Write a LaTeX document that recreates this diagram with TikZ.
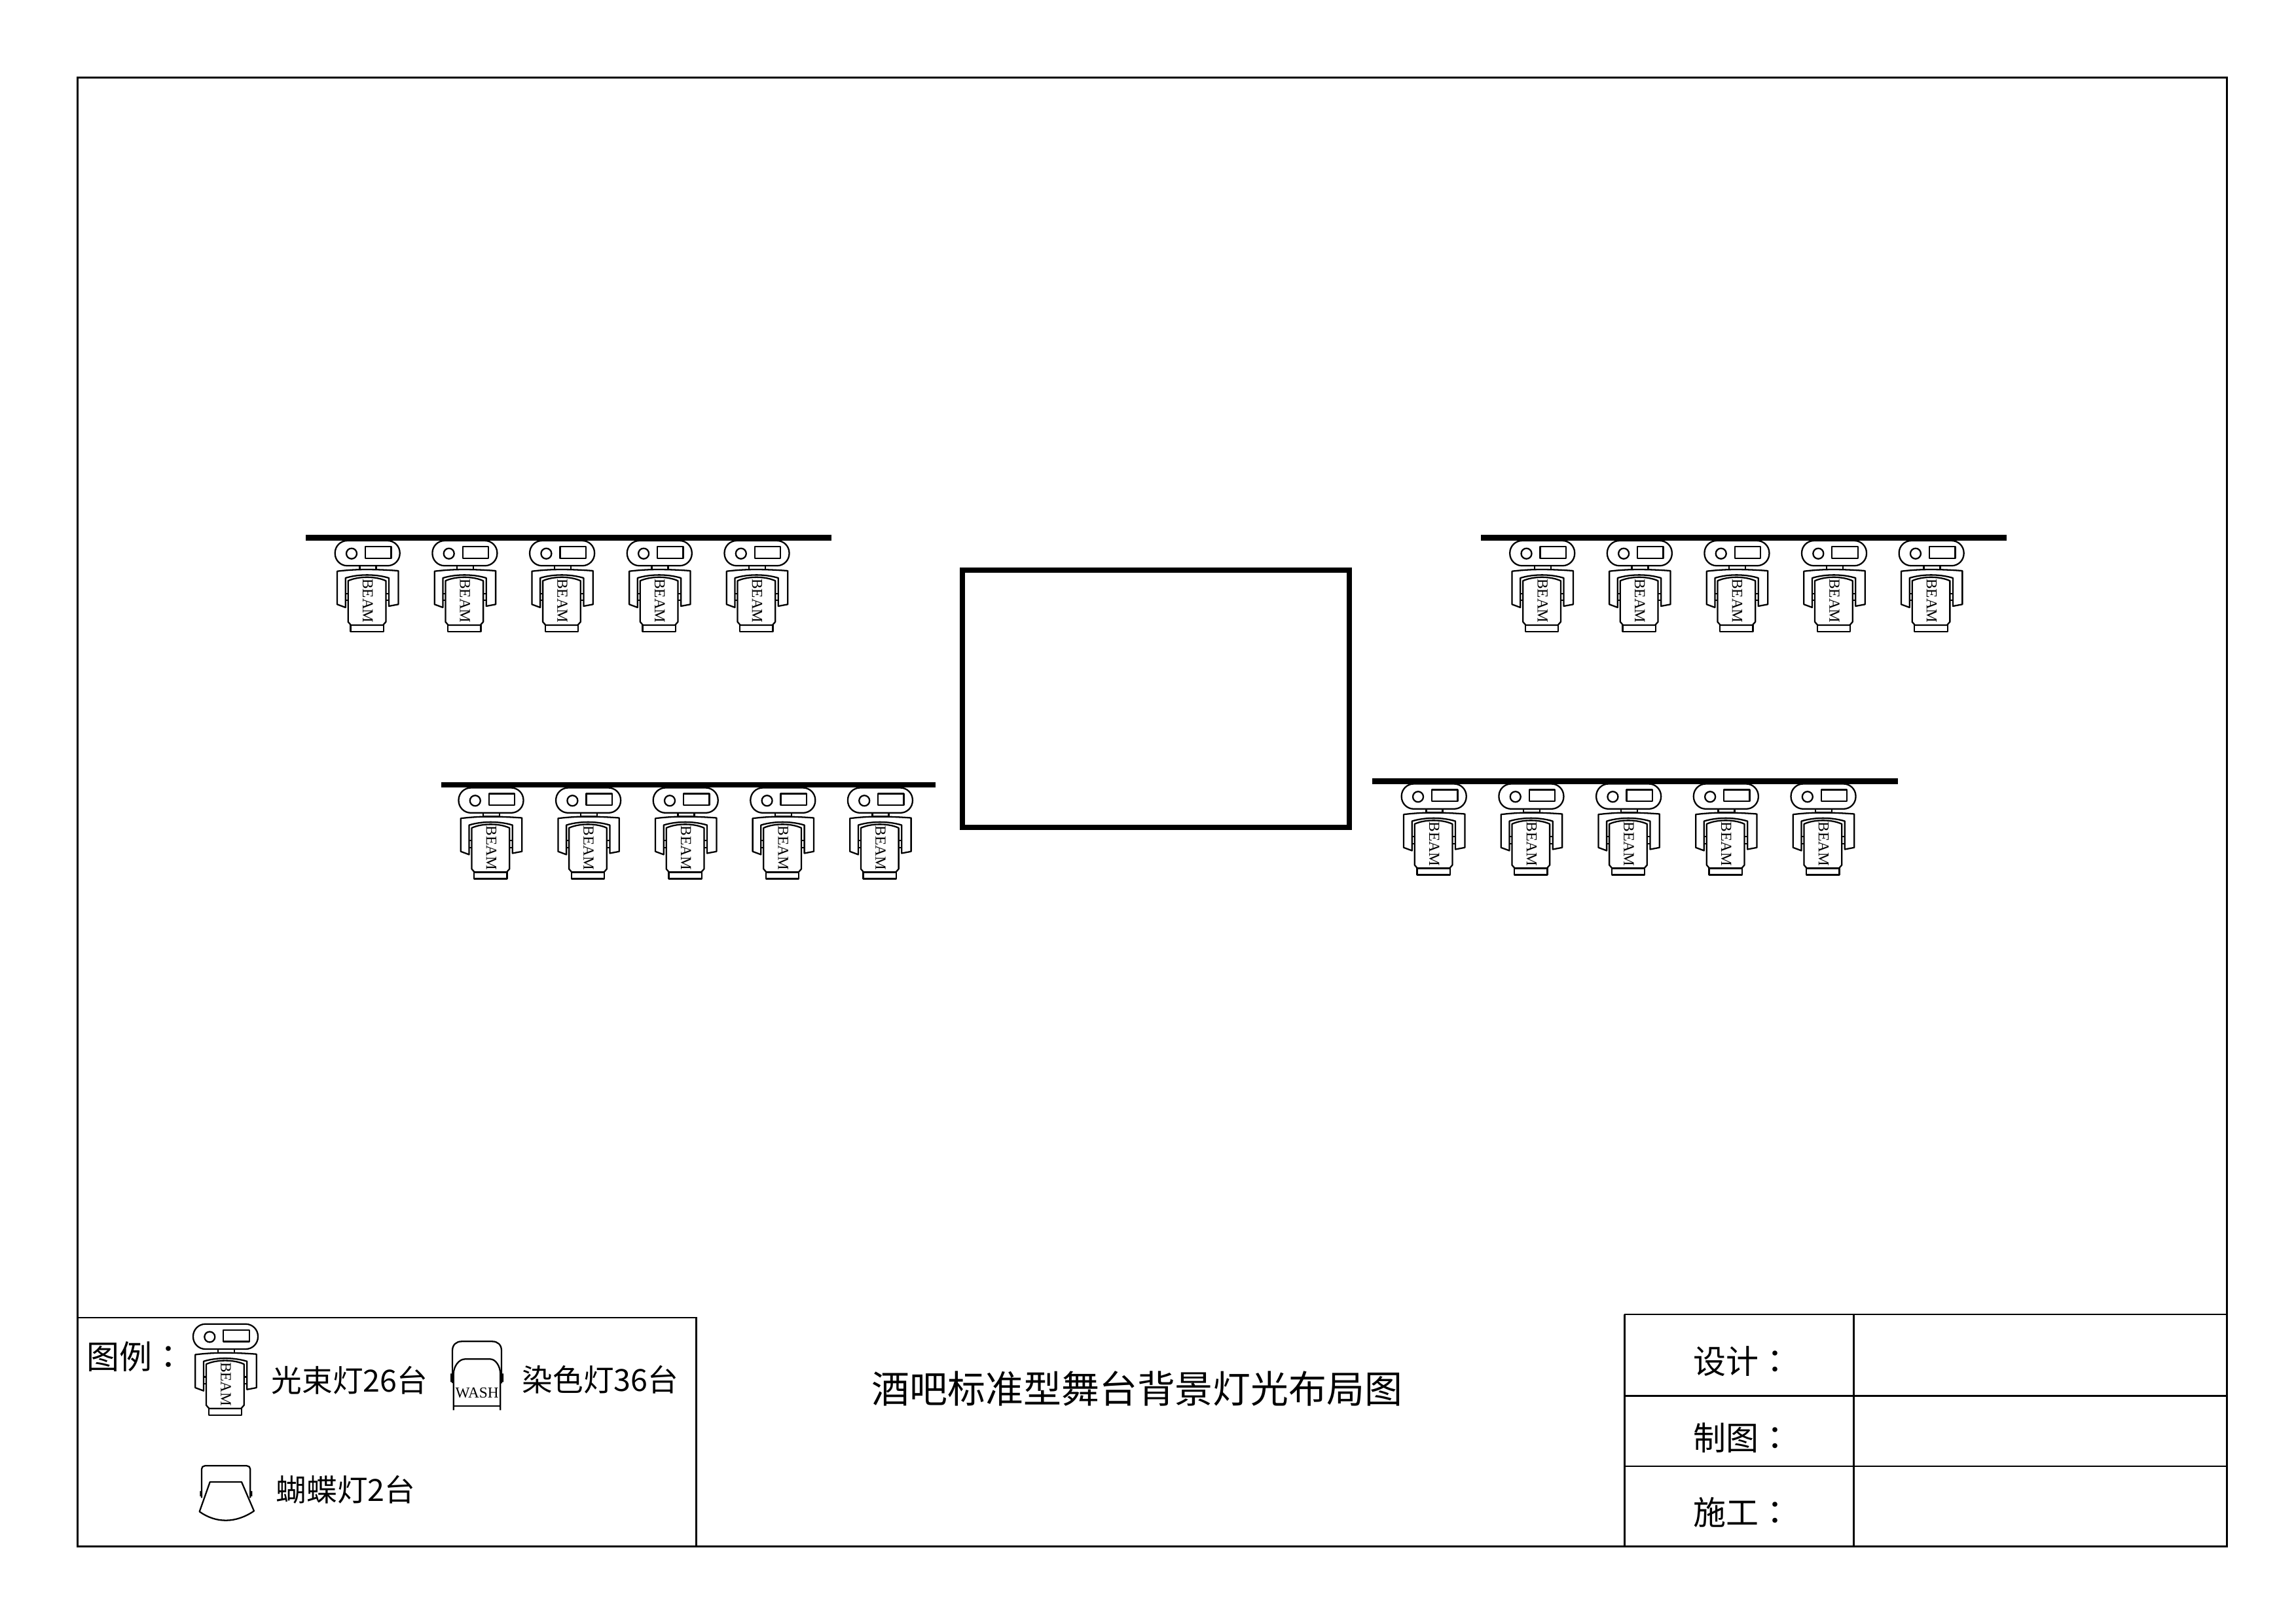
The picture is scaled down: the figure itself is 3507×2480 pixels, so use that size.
\documentclass[tikz,border=0pt]{standalone}
\usepackage{fontspec}
\setmainfont{Noto Sans CJK SC}
\newfontfamily\cjktc{Noto Sans CJK TC}
\newfontfamily\timesf{Liberation Serif}
\newcommand{\cln}{{\cjktc ：}}
\tikzset{
  lampline/.style={draw=black,line width=0.55pt,line join=round},
  framel/.style={draw=black,line width=0.7pt},
  truss/.style={fill=black,draw=none},
  screenbox/.style={draw=black,line width=1.95pt},
  lamplabel/.style={inner sep=0pt,font=\timesf\fontsize{5.6}{6}\selectfont},
  cnlabel/.style={inner sep=0pt,anchor=west,font=\fontsize{11.2}{13}\selectfont},
  cnbig/.style={inner sep=0pt,anchor=west,font=\fontsize{12}{14}\selectfont},
  beamlamp/.pic={
    \draw[lampline,rounded corners=4.5pt] (0,0) rectangle (99,38.3);
    \draw[lampline] (25.3,19.7) circle[radius=8];
    \draw[lampline] (46.3,9) rectangle (85.7,26.7);
    \draw[lampline] (37.7,38.3) rectangle (62.7,44);
    \draw[lampline] (3.3,46.7) .. controls (20,44.7) and (35,44) .. (48,44)
      .. controls (62,44) and (80,44.7) .. (96.7,46) -- (96.7,97.3) -- (82.3,100)
      -- (82.3,57) .. controls (62,50.8) and (36,50.8) .. (16,57) -- (16,102) -- (3.3,97.3) -- cycle;
    \draw[lampline] (20,61.3) .. controls (36,54) and (62,54) .. (77.7,61.3) -- (77.7,124)
      -- (73.3,129) -- (24.3,129) -- (20,124) -- cycle;
    \draw[lampline] (23.7,129) rectangle (74,139);
    \draw[lampline] (16,80.7) -- (20,80.7) (16,91.3) -- (20,91.3) (77.7,80.7) -- (82.3,80.7) (77.7,91.3) -- (82.3,91.3);
    \node[lamplabel,rotate=-90] (-t) at (50,92) {BEAM};
  },
  washlamp/.pic={
    \draw[lampline] (0,40) -- (0,14) .. controls (0,5) and (6,0) .. (14,0) -- (61,0)
      .. controls (69,0) and (75,5) .. (75,14) -- (75,64);
    \draw[lampline] (0,40) -- (0,64);
    \draw[lampline] (1.7,105) -- (1.7,50) .. controls (1.7,38) and (10,27) .. (19,27) -- (58,27)
      .. controls (66,27) and (73.3,38) .. (73.3,50) -- (73.3,105);
    \draw[lampline] (1.7,99) -- (73.3,99);
    \fill (-3,49) rectangle (0,62) (75,49) rectangle (78,62);
    \node[lamplabel] (-t) at (37.7,79) {WASH};
  },
  butterflylamp/.pic={
    \draw[lampline] (0,49) -- (0,5) .. controls (0,2) and (2,0) .. (5,0) -- (69,0)
      .. controls (72,0) and (74.3,2) .. (74.3,5) -- (74.3,49);
    \draw[lampline] (12.7,24.7) -- (61,24.7) -- (80,69) .. controls (52,88) and (22,88) .. (-3.3,70) -- cycle;
    \fill (-2.7,38.5) rectangle (0,46.5) (74.3,38.5) rectangle (77.3,46.5);
  }
}
\begin{document}
\begin{tikzpicture}[x=0.24pt,y=-0.24pt]
\useasboundingbox (0,0) rectangle (3507,2480);
% outer frame
\draw[framel] (118.5,118.5) rectangle (3401,2362);
% legend box
\draw[framel] (118.5,2013) -- (1063.5,2013) -- (1063.5,2362);
% title block
\draw[framel] (2481,2008) -- (3401,2008);
\draw[framel] (2481,2008) -- (2481,2362);
\draw[framel] (2831,2008) -- (2831,2362);
\draw[framel] (2481,2132.7) -- (3401,2132.7);
\draw[framel] (2481,2240) -- (3401,2240);
% screen
\draw[screenbox] (1470,871) rectangle (2061,1264);
% trusses
\fill[truss] (467,817.3) rectangle (1270,825.5);
\fill[truss] (673.5,1195.3) rectangle (1429,1203);
\fill[truss] (2262,817) rectangle (3064.5,825.5);
\fill[truss] (2095.8,1189.3) rectangle (2899,1197.5);
% lamps
\foreach \i in {0,...,4}{
  \pic (a\i) at ({511.7+148.7*\i},826) {beamlamp};
  \pic (b\i) at ({700.5+148.6*\i},1203.5) {beamlamp};
  \pic (c\i) at ({2306.2+148.6*\i},826) {beamlamp};
  \pic (d\i) at ({2140.7+148.7*\i},1197.5) {beamlamp};
}
% legend
\node[cnbig] (legendtitle) at (132,2073) {图例\cln};
\pic (lb) at (295,2022.7) {beamlamp};
\node[cnlabel] (beamtext) at (414,2109) {光束灯26台};
\pic (lw) at (691,2049.3) {washlamp};
\node[cnlabel] (washtext) at (797,2108) {染色灯36台};
\pic (lf) at (308,2239.3) {butterflylamp};
\node[cnlabel] (bflytext) at (421,2276) {蝴蝶灯2台};
% title
\node[inner sep=0pt,font=\fontsize{13.9}{16}\selectfont] (title) at (1737,2121.5) {酒吧标准型舞台背景灯光布局图};
% block labels
\node[cnbig] (design) at (2586,2080) {设计\cln};
\node[cnbig] (draft) at (2586,2197) {制图\cln};
\node[cnbig] (build) at (2586,2310) {施工\cln};
\end{tikzpicture}
\end{document}
